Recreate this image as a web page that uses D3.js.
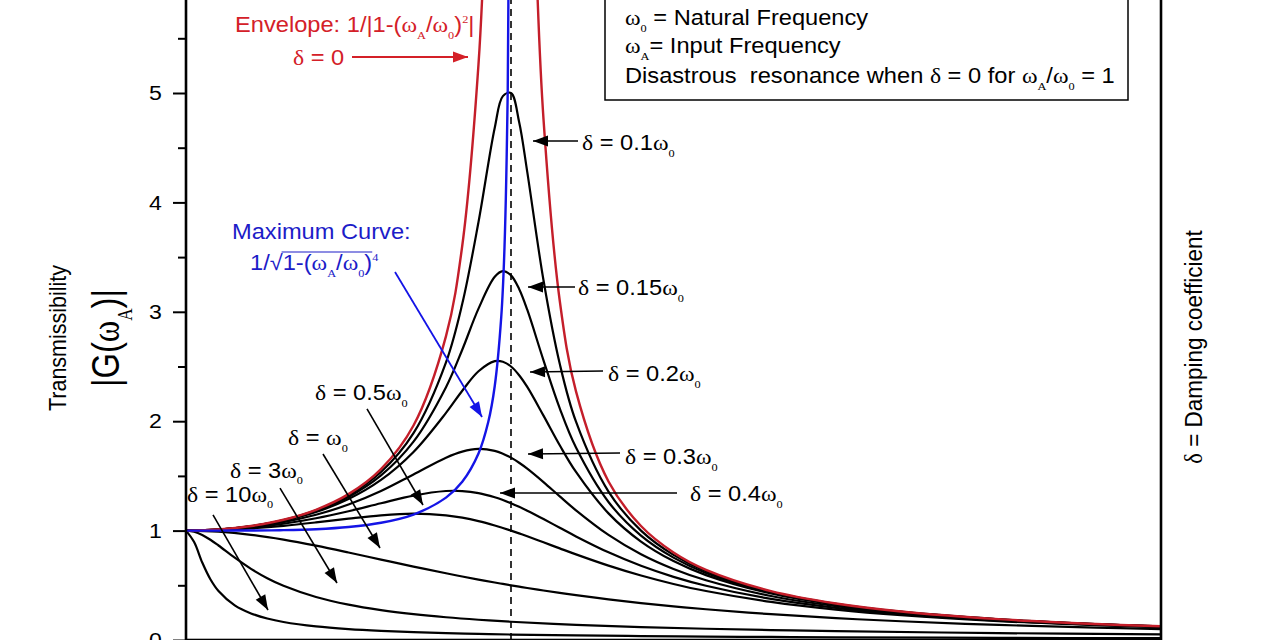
<!DOCTYPE html>
<html>
<head>
<meta charset="utf-8">
<script src="https://cdn.jsdelivr.net/npm/d3@7"></script>
<style>
  body { margin: 0; background: #fff; }
  svg { display: block; }
</style>
</head>
<body>
<div id="chart"></div>
<script>
// frequency ratio wA/w0 and |G|
const ratio = [0, 0.1, 0.2, 0.3, 0.4, 0.5, 0.6, 0.7, 0.8, 0.85, 0.9, 0.95, 0.975, 1.0, 1.025, 1.05, 1.1, 1.15, 1.2, 1.3, 1.4, 1.5, 1.6, 1.8, 2.0, 2.2, 2.5, 2.8, 3.0];
const gain010 = [1, 1.0099, 1.0408, 1.0965, 1.1851, 1.3216, 1.5357, 1.8908, 2.5383, 3.0728, 3.8208, 4.6826, 4.9713, 5.0, 4.7358, 4.2794, 3.288, 2.5245, 1.9952, 1.3562, 1.0, 0.7779, 0.6279, 0.4408, 0.3304, 0.2587, 0.1896, 0.1457, 0.1246];
const gain015 = [1, 1.0096, 1.0396, 1.0936, 1.1785, 1.3074, 1.5042, 1.8131, 2.3113, 2.6534, 3.0289, 3.3199, 3.3711, 3.3333, 3.2088, 3.0188, 2.5566, 2.1175, 1.759, 1.2617, 0.9543, 0.7527, 0.6127, 0.434, 0.3269, 0.2567, 0.1886, 0.1451, 0.1242];
const gain020 = [1, 1.0093, 1.0381, 1.0895, 1.1695, 1.2883, 1.463, 1.7188, 2.0761, 2.2786, 2.4566, 2.549, 2.5438, 2.5, 2.4206, 2.3131, 2.0511, 1.78, 1.5357, 1.1574, 0.8998, 0.7212, 0.5931, 0.425, 0.3221, 0.2538, 0.1871, 0.1443, 0.1236];
const gain030 = [1, 1.0083, 1.0336, 1.078, 1.1447, 1.238, 1.3618, 1.5136, 1.6667, 1.7223, 1.7469, 1.7293, 1.7033, 1.6667, 1.6205, 1.5667, 1.4438, 1.3129, 1.1851, 0.9603, 0.7839, 0.6492, 0.5459, 0.4021, 0.3095, 0.2463, 0.1831, 0.142, 0.122];
const gain040 = [1, 1.0068, 1.0275, 1.0626, 1.1125, 1.1765, 1.25, 1.3203, 1.3618, 1.3616, 1.3429, 1.3051, 1.2795, 1.25, 1.2172, 1.1817, 1.1053, 1.0258, 0.9469, 0.8012, 0.6779, 0.5771, 0.4956, 0.3755, 0.2941, 0.2367, 0.178, 0.1389, 0.1197];
const gain050 = [1, 1.005, 1.0198, 1.0437, 1.0748, 1.1094, 1.1399, 1.1546, 1.1399, 1.1184, 1.0871, 1.0471, 1.0243, 1.0, 0.9744, 0.9479, 0.893, 0.8373, 0.7824, 0.6795, 0.5891, 0.5121, 0.4475, 0.348, 0.2774, 0.226, 0.172, 0.1353, 0.117];
const gain100 = [1, 0.9901, 0.9615, 0.9174, 0.8621, 0.8, 0.7353, 0.6711, 0.6098, 0.5806, 0.5525, 0.5256, 0.5127, 0.5, 0.4876, 0.4756, 0.4525, 0.4305, 0.4098, 0.3717, 0.3378, 0.3077, 0.2809, 0.2358, 0.2, 0.1712, 0.1379, 0.1131, 0.1];

// heavy damping drops fast near zero, so it is read on a finer grid
const ratioHeavy = [0, 0.025, 0.05, 0.075, 0.1, 0.15, 0.2, 0.25, 0.3, 0.4, 0.5, 0.6, 0.7, 0.8, 0.9, 1.0, 1.2, 1.4, 1.6, 1.8, 2.0, 2.5, 3.0];
const gain300 = [1, 0.9895, 0.96, 0.9162, 0.8638, 0.7526, 0.6507, 0.5653, 0.4958, 0.3933, 0.3234, 0.2735, 0.2364, 0.2077, 0.1851, 0.1667, 0.1386, 0.1183, 0.1028, 0.0907, 0.0808, 0.0629, 0.0508];
const gain1000 = [1, 0.8953, 0.708, 0.5557, 0.4481, 0.3169, 0.2431, 0.1966, 0.1648, 0.1243, 0.0997, 0.0832, 0.0714, 0.0625, 0.0556, 0.05, 0.0417, 0.0357, 0.0312, 0.0277, 0.0249, 0.0199, 0.0165];

// envelope (delta = 0), two branches either side of resonance
const ratioEnvLeft = [0, 0.1, 0.2, 0.3, 0.4, 0.5, 0.6, 0.7, 0.8, 0.85, 0.9, 0.92, 0.94, 0.96];
const envLeft = [1, 1.0101, 1.0417, 1.0989, 1.1905, 1.3333, 1.5625, 1.9608, 2.7778, 3.6036, 5.2632, 6.5104, 8.5911, 12.755];
const ratioEnvRight = [1.04, 1.06, 1.08, 1.1, 1.15, 1.2, 1.3, 1.4, 1.5, 1.6, 1.8, 2.0, 2.2, 2.5, 2.8, 3.0];
const envRight = [12.255, 8.0906, 6.0096, 4.7619, 3.1008, 2.2727, 1.4493, 1.0417, 0.8, 0.641, 0.4464, 0.3333, 0.2604, 0.1905, 0.1462, 0.125];

// maximum curve through the peaks
const ratioMax = [0, 0.1, 0.2, 0.3, 0.4, 0.5, 0.6, 0.7, 0.8, 0.85, 0.9, 0.93, 0.95, 0.97, 0.98, 0.99, 0.995, 0.998];
const gainMax = [1, 1.0001, 1.0008, 1.0041, 1.013, 1.0328, 1.0719, 1.1471, 1.3016, 1.4464, 1.7052, 1.992, 2.3215, 2.953, 3.59, 5.04, 7.09, 11.2];

const yMajor = [0, 1, 2, 3, 4, 5];
const yMinor = [0.5, 1.5, 2.5, 3.5, 4.5, 5.5];

const width = 1280;
const height = 640;
const sans = "'Liberation Sans', Arial, Helvetica, sans-serif";
const serif = "'Liberation Serif', 'Times New Roman', serif";
const red = "#c41e2a";
const redText = "#d42028";
const blue = "#1414e6";
const blueText = "#1c1cc8";
const stretch = 1.1; // the source figure is a little wider than tall

const x = d3.scaleLinear().domain([0, 3]).range([186, 1161]);
const y = d3.scaleLinear().domain([0, 6]).range([640, -16.4]);

const svg = d3.select("#chart").append("svg")
  .attr("width", width)
  .attr("height", height)
  .style("font-family", sans);

const defs = svg.append("defs");
defs.append("clipPath").attr("id", "plot-clip")
  .append("rect")
  .attr("x", x(0)).attr("y", y(6))
  .attr("width", x(3) - x(0)).attr("height", y(0) - y(6));

[["black", "#000"], ["red", redText], ["blue", blue]].forEach(([id, col]) => {
  defs.append("marker")
    .attr("id", "arrow-" + id)
    .attr("viewBox", "-16 -6 17 12")
    .attr("refX", 0).attr("refY", 0)
    .attr("markerWidth", 17).attr("markerHeight", 12)
    .attr("markerUnits", "userSpaceOnUse")
    .attr("orient", "auto")
    .append("path")
    .attr("d", "M0,0L-15,-5.5L-15,5.5Z")
    .attr("fill", col);
});

// text with greek letters, subscripts and superscripts
function richText(parent, px, py, parts, size, color, sx) {
  const g = parent.append("g")
    .attr("transform", `translate(${px},${py}) scale(${sx === undefined ? stretch : sx},1)`);
  const t = g.append("text")
    .attr("font-size", size)
    .attr("fill", color)
    .style("white-space", "pre");
  let shift = 0;
  parts.forEach(([str, kind]) => {
    const span = t.append("tspan").text(str);
    let target = 0;
    if (kind === "s") target = size * 0.32;
    if (kind === "p") target = -size * 0.42;
    if (target !== shift) span.attr("dy", target - shift);
    shift = target;
    if (kind === "g") span.attr("font-family", serif).attr("font-size", size);
    if (kind === "s" || kind === "p") span.attr("font-family", serif).attr("font-size", size * 0.52);
  });
  return t;
}

const plot = svg.append("g").attr("clip-path", "url(#plot-clip)");

const line = d3.line()
  .x(d => x(d[0]))
  .y(d => y(d[1]))
  .curve(d3.curveCatmullRom.alpha(0.5));

const blackCurves = [
  d3.zip(ratio, gain010),
  d3.zip(ratio, gain015),
  d3.zip(ratio, gain020),
  d3.zip(ratio, gain030),
  d3.zip(ratio, gain040),
  d3.zip(ratio, gain050),
  d3.zip(ratio, gain100),
  d3.zip(ratioHeavy, gain300),
  d3.zip(ratioHeavy, gain1000)
];

plot.selectAll(".damped")
  .data(blackCurves)
  .join("path")
  .attr("class", "damped")
  .attr("d", line)
  .attr("fill", "none")
  .attr("stroke", "#000")
  .attr("stroke-width", 2.2);

plot.selectAll(".envelope")
  .data([d3.zip(ratioEnvLeft, envLeft), d3.zip(ratioEnvRight, envRight)])
  .join("path")
  .attr("class", "envelope")
  .attr("d", line)
  .attr("fill", "none")
  .attr("stroke", red)
  .attr("stroke-width", 2.4);

plot.append("path")
  .attr("d", line(d3.zip(ratioMax, gainMax)))
  .attr("fill", "none")
  .attr("stroke", blue)
  .attr("stroke-width", 2.4);

// resonance line
plot.append("line")
  .attr("x1", x(1)).attr("x2", x(1))
  .attr("y1", y(0)).attr("y2", y(6))
  .attr("stroke", "#000")
  .attr("stroke-width", 1.6)
  .attr("stroke-dasharray", "7,5");

// axes and frame
const yAxis = svg.append("g")
  .attr("transform", `translate(${x(0)},0)`)
  .call(d3.axisLeft(y).tickValues(yMajor).tickSize(13).tickPadding(9).tickFormat(d3.format("d")));
yAxis.select(".domain").remove();
yAxis.selectAll("line").attr("stroke-width", 2);
yAxis.selectAll("text")
  .attr("font-size", 21)
  .attr("font-family", sans)
  .attr("fill", "#000")
  .attr("transform", `scale(${stretch},1)`);

svg.append("g")
  .attr("transform", `translate(${x(0)},0)`)
  .call(d3.axisLeft(y).tickValues(yMinor).tickSize(8).tickFormat(""))
  .call(g => g.select(".domain").remove())
  .selectAll("line").attr("stroke-width", 2);

svg.append("rect")
  .attr("x", x(0)).attr("y", y(6))
  .attr("width", x(3) - x(0)).attr("height", y(0) - y(6))
  .attr("fill", "none")
  .attr("stroke", "#000")
  .attr("stroke-width", 2.6);

// legend box
const legend = svg.append("g");
legend.append("rect")
  .attr("x", 605).attr("y", -20)
  .attr("width", 523).attr("height", 120)
  .attr("fill", "#fff")
  .attr("stroke", "#000")
  .attr("stroke-width", 1.5);
richText(legend, 625, 25, [["ω", "g"], ["0", "s"], [" = Natural Frequency", ""]], 21.5, "#000");
richText(legend, 625, 53, [["ω", "g"], ["A", "s"], ["= Input Frequency", ""]], 21.5, "#000");
richText(legend, 625, 83, [["Disastrous  resonance when ", ""], ["δ", "g"], [" = 0 for ", ""], ["ω", "g"], ["A", "s"], ["/", ""], ["ω", "g"], ["0", "s"], [" = 1", ""]], 21.5, "#000");

// axis titles (stretch applied across the glyphs, as in the source)
svg.append("g")
  .attr("transform", `translate(66,338) scale(${stretch},1) rotate(-90)`)
  .append("text")
  .attr("text-anchor", "middle")
  .attr("font-size", 21.5)
  .text("Transmissibility");

const gTitle = svg.append("g").attr("transform", `translate(119,338) scale(${stretch},1) rotate(-90)`);
richText(gTitle, 0, 0, [["|G(", ""], ["ω", "g"], ["A", "s"], [")|", ""]], 36, "#000", 1)
  .attr("text-anchor", "middle")
  .attr("textLength", 98)
  .attr("lengthAdjust", "spacingAndGlyphs");

const dTitle = svg.append("g").attr("transform", `translate(1202,347) scale(${stretch},1) rotate(-90)`);
richText(dTitle, 0, 0, [["δ", "g"], [" = Damping coefficient", ""]], 22.5, "#000", 1)
  .attr("text-anchor", "middle");

// damping labels with arrows, positions in data units
const labels = [
  { text: [["δ", "g"], [" = 0.1", ""], ["ω", "g"], ["0", "s"]], at: [1.2185, 4.479], from: [1.2062, 4.561], to: [1.0677, 4.561] },
  { text: [["δ", "g"], [" = 0.15", ""], ["ω", "g"], ["0", "s"]], at: [1.2062, 3.154], from: [1.1969, 3.227], to: [1.0523, 3.227] },
  { text: [["δ", "g"], [" = 0.2", ""], ["ω", "g"], ["0", "s"]], at: [1.2985, 2.367], from: [1.2831, 2.459], to: [1.0585, 2.45] },
  { text: [["δ", "g"], [" = 0.3", ""], ["ω", "g"], ["0", "s"]], at: [1.3508, 1.609], from: [1.3354, 1.709], to: [1.0523, 1.7] },
  { text: [["δ", "g"], [" = 0.4", ""], ["ω", "g"], ["0", "s"]], at: [1.5508, 1.271], from: [1.5108, 1.344], to: [0.9662, 1.344] },
  { text: [["δ", "g"], [" = 0.5", ""], ["ω", "g"], ["0", "s"]], at: [0.3969, 2.194], from: [0.5569, 2.112], to: [0.7292, 1.234] },
  { text: [["δ", "g"], [" = ", ""], ["ω", "g"], ["0", "s"]], at: [0.3138, 1.782], from: [0.4215, 1.7], to: [0.5969, 0.841] },
  { text: [["δ", "g"], [" = 3", ""], ["ω", "g"], ["0", "s"]], at: [0.1354, 1.485], from: [0.2892, 1.389], to: [0.4646, 0.521] },
  { text: [["δ", "g"], [" = 10", ""], ["ω", "g"], ["0", "s"]], at: [0.0031, 1.265], from: [0.0831, 1.143], to: [0.2523, 0.274] }
];

const notes = svg.append("g");
labels.forEach(l => {
  notes.append("line")
    .attr("x1", x(l.from[0])).attr("y1", y(l.from[1]))
    .attr("x2", x(l.to[0])).attr("y2", y(l.to[1]))
    .attr("stroke", "#000")
    .attr("stroke-width", 1.6)
    .attr("marker-end", "url(#arrow-black)");
  richText(notes, x(l.at[0]), y(l.at[1]), l.text, 21.5, "#000");
});

// envelope note
richText(notes, x(0.1508), y(5.558), [["Envelope: 1/|1-(", ""], ["ω", "g"], ["A", "s"], ["/", ""], ["ω", "g"], ["0", "s"], [")", ""], ["2", "p"], ["|", ""]], 21.5, redText);
richText(notes, x(0.3292), y(5.256), [["δ", "g"], [" = 0", ""]], 21.5, redText);
notes.append("line")
  .attr("x1", x(0.5108)).attr("y1", y(5.329))
  .attr("x2", x(0.8677)).attr("y2", y(5.329))
  .attr("stroke", redText)
  .attr("stroke-width", 1.8)
  .attr("marker-end", "url(#arrow-red)");

// maximum curve note
richText(notes, x(0.1415), y(3.665), [["Maximum Curve:", ""]], 21.5, blueText);
const maxLabel = richText(notes, x(0.1969), y(3.382), [["1/√", ""], ["1-(", ""], ["ω", "g"], ["A", "s"], ["/", ""], ["ω", "g"], ["0", "s"], [")", ""], ["4", "p"]], 21.5, blueText);
const spans = maxLabel.selectAll("tspan").nodes();
const b0 = spans[1].getBBox();
const b1 = spans[7].getBBox();
d3.select(maxLabel.node().parentNode).append("line")
  .attr("x1", b0.x - 1).attr("x2", b1.x + b1.width)
  .attr("y1", b0.y + 1).attr("y2", b0.y + 1)
  .attr("stroke", blueText)
  .attr("stroke-width", 1.2);
notes.append("line")
  .attr("x1", x(0.6431)).attr("y1", y(3.364))
  .attr("x2", x(0.9108)).attr("y2", y(2.038))
  .attr("stroke", blue)
  .attr("stroke-width", 1.8)
  .attr("marker-end", "url(#arrow-blue)");
</script>
</body>
</html>
